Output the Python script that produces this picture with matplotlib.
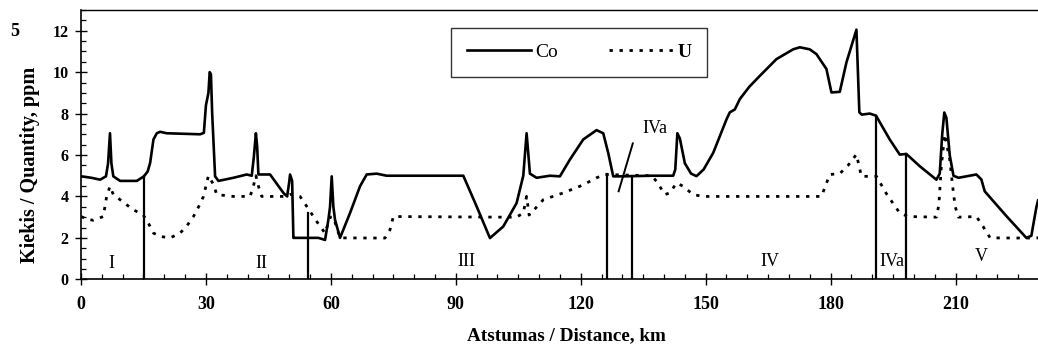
import matplotlib
matplotlib.use("Agg")
import matplotlib.pyplot as plt
from matplotlib.ticker import MultipleLocator
from matplotlib.lines import Line2D

# Cobalt profile along the route (km, ppm)
co_km = [0, 2.5, 4.6, 6.0, 6.5, 6.96, 7.3, 7.76, 9.4, 13.4, 15.1, 16.0, 16.6, 17.4,
         18.2, 19.0, 20.6, 28.6, 29.5, 30.0, 30.6, 30.9, 31.2, 31.5, 32.2, 33.0, 36.6,
         39.8, 41.0, 41.5, 42.0, 42.3, 42.6, 45.4, 48.6, 49.5, 50.0, 50.2, 50.7, 51.0,
         51.4, 57.0, 58.6, 59.4, 59.8, 60.2, 60.6, 61.0, 62.2, 64.6, 67.0, 68.6, 71.0,
         73.4, 91.8, 95.0, 98.2, 101.4, 104.6, 106.2, 107.0, 107.8, 109.4, 112.6, 115.0,
         117.4, 120.6, 123.8, 125.4, 126.6, 127.8, 130.0, 137.0, 142.2, 142.7, 143.2,
         143.8, 145.0, 146.5, 147.8, 149.5, 151.8, 155.0, 155.8, 157.0, 158.2, 160.5,
         163.0, 167.0, 171.0, 172.6, 175.0, 176.6, 179.0, 180.2, 182.2, 183.8, 186.2,
         186.9, 187.5, 189.4, 190.9, 194.2, 196.6, 198.2, 201.4, 205.4, 206.2, 206.8,
         207.3, 207.8, 208.6, 209.5, 210.7, 215.0, 216.2, 217.0, 222.0, 227.0, 228.2,
         229.4, 229.8]
co_ppm = [4.97, 4.9, 4.81, 4.97, 5.6, 7.05, 5.6, 4.97, 4.75, 4.75, 4.97, 5.2, 5.62, 6.75,
          7.05, 7.12, 7.05, 7.0, 7.07, 8.4, 9.0, 10.0, 9.9, 8.0, 4.97, 4.75, 4.9,
          5.06, 5.0, 5.9, 7.05, 6.4, 5.06, 5.06, 4.17, 4.0, 4.7, 5.06, 4.75, 2.0,
          2.0, 2.0, 1.9, 2.87, 3.5, 4.97, 3.5, 2.87, 2.0, 3.2, 4.49, 5.06, 5.1,
          5.0, 5.0, 3.52, 1.99, 2.55, 3.68, 5.0, 7.05, 5.1, 4.9, 5.0, 4.97,
          5.78, 6.75, 7.2, 7.05, 6.1, 4.97, 4.97, 5.0, 5.0, 5.3, 7.05,
          6.8, 5.6, 5.1, 4.98, 5.3, 6.1, 7.72, 8.06, 8.2, 8.7, 9.3,
          9.82, 10.63, 11.1, 11.2, 11.1, 10.87, 10.15, 9.02, 9.05, 10.47, 12.05,
          8.06, 7.95, 8.0, 7.9, 6.75, 6.02, 6.05, 5.46, 4.81, 5.1, 7.0,
          8.05, 7.8, 6.0, 5.0, 4.9, 5.06, 4.82, 4.25, 3.1, 2.0, 2.1,
          3.47, 3.8]

# Uranium profile along the route (km, ppm)
u_km = [0, 1.5, 2.95, 5.35, 6.16, 6.96, 7.76, 10.0, 12.5, 14.9, 16.2, 17.4, 19.0, 21.4,
        23.8, 25.5, 27.0, 28.5, 29.4, 30.6, 31.8, 32.6, 36.6, 40.6, 41.4, 42.0, 42.6,
        43.4, 48.6, 50.2, 52.6, 54.2, 56.6, 58.6, 59.8, 60.6, 62.2, 73.0, 74.2, 75.0,
        100.6, 104.6, 106.2, 107.0, 107.6, 109.0, 111.0, 115.8, 120.5, 123.8, 125.8,
        137.0, 138.2, 140.2, 141.4, 143.0, 144.5, 147.0, 149.4, 177.8, 179.8, 182.2,
        184.2, 186.2, 187.4, 191.0, 193.5, 196.6, 198.6, 205.4, 206.0, 206.6, 207.4,
        208.6, 209.3, 209.9, 210.7, 215.0, 216.6, 218.3, 227.8, 229.8]
u_ppm = [3.03, 2.9, 2.85, 3.03, 4.0, 4.49, 4.09, 3.75, 3.36, 3.12, 2.7, 2.23, 2.07, 2.0,
         2.23, 2.6, 3.03, 3.6, 4.0, 5.0, 4.58, 4.09, 4.0, 4.0, 4.5, 5.0, 4.5,
         4.0, 4.0, 4.1, 4.0, 3.52, 2.79, 2.23, 3.0, 3.0, 2.0, 1.99, 2.39, 3.03,
         3.0, 3.0, 3.2, 4.0, 3.1, 3.4, 3.84, 4.17, 4.55, 4.9, 5.06,
         5.0, 4.73, 4.09, 4.17, 4.65, 4.5, 4.09, 4.0, 4.0, 5.06, 5.1,
         5.5, 6.03, 4.97, 4.97, 4.1, 3.2, 3.03, 3.0, 3.6, 5.5, 7.0,
         5.78, 4.49, 3.52, 3.0, 3.03, 2.55, 2.0, 1.99, 2.0]

# Zone boundaries: position (km) and height of the dividing line (ppm)
boundary_km = [15.1, 54.6, 126.4, 132.2, 190.9, 198.2]
boundary_top = [4.97, 3.2, 5.06, 5.0, 7.9, 6.05]
# Oblique fault mark near the IVa zone
fault_km = [129.1, 132.5]
fault_ppm = [4.25, 6.56]

zone_names = ["I", "II", "III", "IV", "IVa", "V", "IVa"]

x_ticks = [0, 30, 60, 90, 120, 150, 180, 210]
y_ticks = [0, 2, 4, 6, 8, 10, 12]

serif = ["Liberation Serif", "DejaVu Serif"]
plt.rcParams["font.family"] = serif

W, H = 1038, 349
fig = plt.figure(figsize=(W / 100, H / 100), dpi=100)
x0, y0, y1 = 81, 279.3, 10
ax = fig.add_axes([x0 / W, 1 - y0 / H, (W - x0) / W, (y0 - y1) / H])

ax.plot(co_km, co_ppm, color="black", lw=1.9, solid_joinstyle="round", label="Co")
ax.plot(u_km, u_ppm, color="black", lw=2.0, linestyle=(0, (1.2, 2.4)), label="U")

for xb, top in zip(boundary_km, boundary_top):
    ax.plot([xb, xb], [0, top], color="black", lw=1.6)
ax.plot(fault_km, fault_ppm, color="black", lw=1.4)

zone_pos = [(7.4, 0.78), (43.4, 0.78), (92.6, 0.85), (165.4, 0.85),
            (194.6, 0.85), (216.3, 1.1), (137.8, 7.3)]
for name, (zx, zy) in zip(zone_names, zone_pos):
    ax.text(zx, zy, name, ha="center", va="center", fontsize=13, color="black")

ax.set_xlim(0, 229.8)
ax.set_ylim(0, 13)
ax.set_xticks(x_ticks)
ax.set_yticks(y_ticks)
ax.xaxis.set_minor_locator(MultipleLocator(5))
ax.yaxis.set_minor_locator(MultipleLocator(0.5))
ax.tick_params(which="major", direction="inout", length=8, width=1,
               top=False, right=False)
ax.tick_params(which="minor", direction="in", length=3.5, width=0.9,
               top=False, right=False)
ax.tick_params(axis="y", which="major", pad=5, labelsize=11.5)
ax.tick_params(axis="x", which="major", pad=8, labelsize=13)
for lab in ax.get_xticklabels() + ax.get_yticklabels():
    lab.set_fontweight("bold")

ax.spines["right"].set_visible(False)
for s in ["left", "bottom"]:
    ax.spines[s].set_linewidth(1.2)
ax.spines["top"].set_linewidth(1.0)

fig.text(566 / W, 1 - 336 / H, "Atstumas / Distance, km", ha="center", va="center",
         fontsize=13.8, fontweight="bold")
fig.text(30 / W, 1 - 165 / H, "Kiekis / Quantity, ppm", ha="center", va="center",
         rotation=90, fontsize=14.5, fontweight="bold")
fig.text(15 / W, 1 - 32 / H, "5", ha="center", va="center", fontsize=13,
         fontweight="bold")

handles = [Line2D([], [], color="black", lw=1.9),
           Line2D([], [], color="black", lw=2.0, linestyle=(0, (1.2, 2.4)))]
leg = ax.legend(handles, ["Co", "U"], loc="upper left",
                bbox_to_anchor=((451 - x0) / (W - x0), (y0 - 28) / (y0 - y1)),
                borderaxespad=0, ncol=2, frameon=True, fancybox=False,
                edgecolor="black", fontsize=14, handlelength=3.3,
                handletextpad=0.25, columnspacing=2.6, borderpad=0.8)
leg.get_frame().set_linewidth(1.0)
leg.get_texts()[1].set_fontweight("bold")

fig.savefig("out.png", dpi=100)
